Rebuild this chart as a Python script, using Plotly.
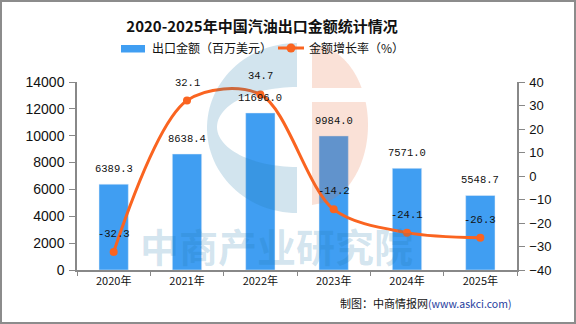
import numpy as np
import plotly.graph_objects as go

years = ["2020年", "2021年", "2022年", "2023年", "2024年", "2025年"]
export_value = [6389.3, 8638.4, 11696.0, 9984.0, 7571.0, 5548.7]
growth_rate = [-32.3, 32.1, 34.7, -14.2, -24.1, -26.3]

BAR_NAME = "出口金额（百万美元）"
LINE_NAME = "金额增长率（%）"
BAR_COLOR = "#409EF2"
LINE_COLOR = "#FA6420"

W, H = 576, 324
L, R, T, B = 77, 59, 82, 54
PW, PH = W - L - R, H - T - B


def px(x):
    return (x - L) / PW


def py(y):
    return (H - B - y) / PH


fig = go.Figure()
fig.add_trace(go.Bar(
    x=years, y=export_value, name=BAR_NAME, marker_color=BAR_COLOR,
    width=0.4, showlegend=False, yaxis="y",
))
fig.add_trace(go.Scatter(
    x=years, y=growth_rate, name=LINE_NAME, mode="lines+markers",
    line=dict(color=LINE_COLOR, width=3, shape="spline", smoothing=0.9),
    marker=dict(size=8, color=LINE_COLOR), showlegend=False, yaxis="y2",
))

annotations = []
mono = dict(family="Liberation Mono, DejaVu Sans Mono, monospace", size=10.5, color="#111")
for cat, v in zip(years, export_value):
    annotations.append(dict(x=cat, y=v, xref="x", yref="y", text=f"{v:.1f}",
                            showarrow=False, yshift=15, font=mono))
for cat, v in zip(years, growth_rate):
    annotations.append(dict(x=cat, y=v, xref="x", yref="y2", text=f"{v:.1f}",
                            showarrow=False, yshift=18, font=mono))

cjk = "Noto Sans CJK SC, sans-serif"
# legend (custom)
annotations.append(dict(x=px(150), y=py(48), xref="paper", yref="paper", text=BAR_NAME,
                        xanchor="left", yanchor="middle", showarrow=False,
                        font=dict(family=cjk, size=12, color="#111")))
annotations.append(dict(x=px(307), y=py(48), xref="paper", yref="paper", text=LINE_NAME,
                        xanchor="left", yanchor="middle", showarrow=False,
                        font=dict(family=cjk, size=12, color="#111")))
# footer
annotations.append(dict(x=px(513), y=py(303), xref="paper", yref="paper",
                        text="制图：中商情报网<span style='color:#1F3E9E;font-size:10.5px'>(www.askci.com)</span>",
                        xanchor="right", yanchor="middle", showarrow=False,
                        font=dict(family=cjk, size=11, color="#111")))
# watermark text
annotations.append(dict(x=px(276), y=py(245), xref="paper", yref="paper",
                        text="<b>中商产业研究院</b>", xanchor="center", yanchor="middle",
                        showarrow=False,
                        font=dict(family=cjk, size=39, color="rgba(30,120,170,0.2)")))

shapes = []


def poly(points):
    s = "M " + " L ".join(f"{px(x):.4f},{py(y):.4f}" for x, y in points) + " Z"
    return s


# blue "C" logo
cx, cy = 297, 128
t_out = np.linspace(np.pi / 2, 3 * np.pi / 2, 60)
outer = [(cx + 90 * np.cos(t), cy - 85 * np.sin(t)) for t in t_out]
t_in = np.linspace(3 * np.pi / 2, np.pi / 2, 60)
inner = [(cx + 80 * np.cos(t), 127 - 40 * np.sin(t)) for t in t_in]
shapes.append(dict(type="path", xref="paper", yref="paper", path=poly(outer + inner),
                   fillcolor="rgba(30,120,170,0.2)", line=dict(width=0), layer="above"))
# peach half disc with gap
pcx, pcy, prx, pry = 312, 125, 56, 80


def half_pts(y0, y1):
    ys = np.linspace(y0, y1, 40)
    pts = [(pcx + prx * np.sqrt(max(0, 1 - ((yy - pcy) / pry) ** 2)), yy) for yy in ys]
    return [(pcx, y0)] + pts + [(pcx, y1)]


shapes.append(dict(type="path", xref="paper", yref="paper", path=poly(half_pts(pcy - pry, 88)),
                   fillcolor="rgba(230,105,55,0.2)", line=dict(width=0), layer="above"))
shapes.append(dict(type="path", xref="paper", yref="paper", path=poly(half_pts(102, pcy + pry)),
                   fillcolor="rgba(230,105,55,0.2)", line=dict(width=0), layer="above"))

# legend symbols
shapes.append(dict(type="rect", xref="paper", yref="paper", x0=px(121), x1=px(145),
                   y0=py(52.5), y1=py(45), fillcolor=BAR_COLOR, line=dict(width=0)))
shapes.append(dict(type="line", xref="paper", yref="paper", x0=px(278), x1=px(304),
                   y0=py(48), y1=py(48), line=dict(color=LINE_COLOR, width=3)))
shapes.append(dict(type="circle", xref="paper", yref="paper", x0=px(286.5), x1=px(295.5),
                   y0=py(52.5), y1=py(43.5), fillcolor=LINE_COLOR, line=dict(width=0)))
# border
shapes.append(dict(type="rect", xref="paper", yref="paper", x0=px(1), x1=px(575),
                   y0=py(323), y1=py(1), line=dict(color="#8c8c8c", width=2),
                   fillcolor="rgba(0,0,0,0)"))

axis_font = dict(family="Liberation Sans, Arial, sans-serif", size=14, color="#111")
fig.update_layout(
    width=W, height=H,
    margin=dict(l=L, r=R, t=T, b=B),
    paper_bgcolor="white", plot_bgcolor="white",
    title=dict(text="<b>2020-2025年中国汽油出口金额统计情况</b>", x=262 / W, xanchor="center",
               y=1 - 27 / H, yanchor="middle", font=dict(family=cjk, size=15, color="#111")),
    bargap=0.6,
    xaxis=dict(type="category", showline=True, linecolor="#888", linewidth=1.5,
               ticks="outside", tickson="boundaries", ticklen=4, tickcolor="#888",
               tickfont=dict(family=cjk, size=11, color="#111"), showgrid=False,
               range=[-0.5, 5.5]),
    yaxis=dict(range=[0, 14000], dtick=2000, tickformat="d", showline=True, linecolor="#888",
               linewidth=1.5, ticks="outside", ticklen=6, tickcolor="#888", showgrid=False,
               zeroline=False, tickfont=axis_font, ticklabelstandoff=2),
    yaxis2=dict(range=[-40, 40], dtick=10, tickformat="d", overlaying="y", side="right",
                showline=True, linecolor="#888", linewidth=1.5, ticks="outside", ticklen=6,
                tickcolor="#888", showgrid=False, zeroline=False,
                tickfont=dict(family="Liberation Sans, Arial, sans-serif", size=13, color="#111"),
                ticklabelstandoff=2),
    annotations=annotations,
    shapes=shapes,
    showlegend=False,
)

fig.write_html("out.html")
